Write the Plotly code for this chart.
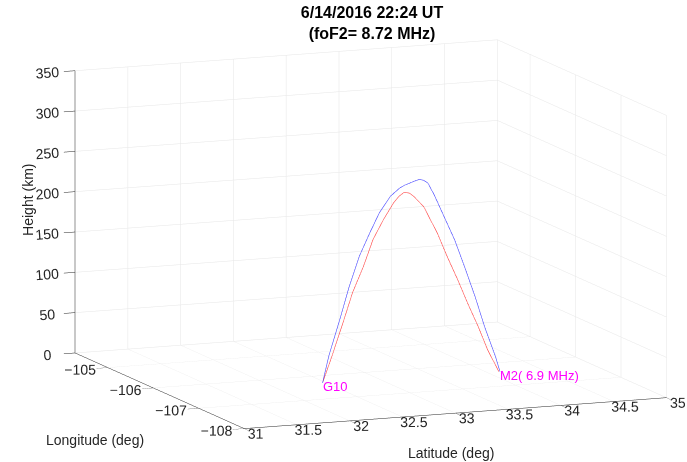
import plotly.graph_objects as go

# Ray path data (latitude deg, longitude deg, height km)
blue_lat = [32.47, 32.53, 32.63, 32.72, 32.81, 32.91, 33.00, 33.10, 33.19, 33.24, 33.29, 33.33, 33.37,
            33.41, 33.45, 33.51, 33.60, 33.70, 33.79, 33.89, 33.98, 34.08, 34.12]
blue_lon = [-106.31, -106.31, -106.32, -106.32, -106.33, -106.33, -106.33, -106.34, -106.34, -106.34, -106.34, -106.35, -106.35,
            -106.35, -106.35, -106.35, -106.36, -106.36, -106.37, -106.37, -106.37, -106.38, -106.38]
blue_h = [0, 33.1, 77.7, 118.1, 154.4, 182.6, 206.5, 226.2, 235.7, 238.8, 241.0, 243.3, 244.7,
          243.2, 239.5, 224.3, 196.5, 166.7, 132.6, 94.5, 56.3, 18.2, 0]

red_lat = [32.47, 32.56, 32.66, 32.75, 32.85, 32.94, 33.04, 33.13, 33.18, 33.23, 33.28, 33.32, 33.41,
           33.54, 33.63, 33.73, 33.82, 33.92, 34.01, 34.11]
red_lon = [-106.31, -106.31, -106.32, -106.32, -106.33, -106.33, -106.33, -106.34, -106.34, -106.34, -106.34, -106.34, -106.35,
           -106.35, -106.36, -106.36, -106.37, -106.37, -106.37, -106.38]
red_h = [0, 32.7, 73.3, 109.6, 141.7, 174.0, 197.9, 217.7, 225.2, 229.8, 228.3, 224.0, 210.7,
         176.5, 146.5, 116.7, 86.9, 57.0, 27.1, 0]

station_names = ["G10", "M2( 6.9 MHz)"]
station_lat = [32.47, 34.12]
station_lon = [-106.31, -106.38]
station_h = [0, 0]

lat_ticks = [31, 31.5, 32, 32.5, 33, 33.5, 34, 34.5, 35]
lat_ticklabels = ["31", "31.5", "32", "32.5", "33", "33.5", "34", "34.5", "35"]
lon_ticks = [-108, -107, -106, -105]
lon_ticklabels = ["\u2212108", "\u2212107", "\u2212106", "\u2212105"]
h_ticks = [0, 50, 100, 150, 200, 250, 300, 350]

lat_range = [31, 35]
lon_range = [-108, -104.28]
h_range = [0, 350]

FONT = "Liberation Sans, Arial, sans-serif"
TXT = "#262626"
GRID = "#e6e6e6"

fig = go.Figure()
fig.add_trace(go.Scatter3d(x=blue_lat, y=blue_lon, z=blue_h, mode="lines",
                           line=dict(color="#4646ff", width=1.2), showlegend=False, hoverinfo="skip"))
fig.add_trace(go.Scatter3d(x=red_lat, y=red_lon, z=red_h, mode="lines",
                           line=dict(color="#ff4646", width=1.2), showlegend=False, hoverinfo="skip"))

axis_common = dict(showbackground=False, gridcolor=GRID, gridwidth=1, showline=True,
                   linecolor=TXT, linewidth=1, ticks="outside", tickcolor=TXT,
                   tickfont=dict(size=13, color=TXT, family=FONT), zeroline=False,
                   showspikes=False, mirror=False)

annotations = []
for name, la, lo, h in zip(station_names, station_lat, station_lon, station_h):
    annotations.append(dict(x=la, y=lo, z=h, text=name, showarrow=False,
                            xanchor="left", yanchor="middle", xshift=-2, yshift=-4,
                            font=dict(color="#ff00ff", size=13, family=FONT)))
# axis titles (placed like the original's horizontal / vertical labels)
annotations.append(dict(x=lat_range[0], y=lon_range[0], z=0, text="Longitude (deg)", showarrow=False,
                        xanchor="center", yanchor="middle", xshift=-149, yshift=-11,
                        font=dict(color=TXT, size=14, family=FONT)))
annotations.append(dict(x=33, y=lon_range[0], z=0, text="Latitude (deg)", showarrow=False,
                        xanchor="center", yanchor="middle", xshift=-4, yshift=-40,
                        font=dict(color=TXT, size=14, family=FONT)))
annotations.append(dict(x=lat_range[0], y=lon_range[1], z=175, text="Height (km)", showarrow=False,
                        xanchor="center", yanchor="middle", xshift=-47, yshift=12, textangle=-90,
                        font=dict(color=TXT, size=14, family=FONT)))

SC = 1.972
d = (-0.369, -0.912, 0.181)          # viewing direction (toward camera)
c = (-0.1085, 0.0466, 0.0136)        # look-at offset to place the box in the window
R = 3.0
fig.update_layout(
    width=687, height=462,
    margin=dict(l=0, r=0, t=0, b=0),
    paper_bgcolor="white",
    title=dict(text="<b>6/14/2016 22:24 UT<br>(foF2= 8.72 MHz)</b>",
               x=372/687, xanchor="center", y=0.96, yanchor="top",
               font=dict(size=16, color="#000000", family=FONT)),
    scene=dict(
        domain=dict(x=[0.0, 1.0], y=[0.0, 1.0]),
        xaxis=dict(title=dict(text=""), range=lat_range, tickvals=lat_ticks,
                   ticktext=lat_ticklabels, tickangle=0, ticklen=12, **axis_common),
        yaxis=dict(title=dict(text=""), range=lon_range, tickvals=lon_ticks,
                   ticktext=lon_ticklabels, tickangle=0, ticklen=12, **axis_common),
        zaxis=dict(title=dict(text=""), range=h_range, tickvals=h_ticks, ticklen=5, **axis_common),
        aspectmode="manual",
        aspectratio=dict(x=1.0 * SC, y=0.99 * SC, z=0.63 * SC),
        camera=dict(projection=dict(type="orthographic"),
                    eye=dict(x=c[0] + d[0] * R, y=c[1] + d[1] * R, z=c[2] + d[2] * R),
                    center=dict(x=c[0], y=c[1], z=c[2]), up=dict(x=0, y=0, z=1)),
        annotations=annotations,
    ),
)

fig.write_html("out.html")
